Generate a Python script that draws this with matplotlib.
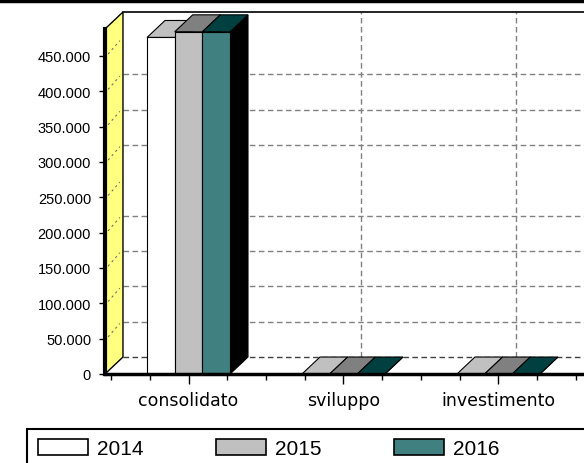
import numpy as np
import matplotlib
matplotlib.use("Agg")
import matplotlib.pyplot as plt
from matplotlib.patches import Polygon, Rectangle, Patch
from matplotlib.lines import Line2D
from matplotlib.ticker import FuncFormatter

# data
categories = ["consolidato", "sviluppo", "investimento"]
years = ["2014", "2015", "2016"]
v2014 = [476000, 0, 0]
v2015 = [484000, 0, 0]
v2016 = [484000, 0, 0]
yticks = [0, 50000, 100000, 150000, 200000, 250000, 300000, 350000, 400000, 450000]
grid_vals = [50000, 100000, 150000, 200000, 300000, 350000, 400000]  # 250k / 450k not drawn in the source

front_cols = ["#ffffff", "#c0c0c0", "#408080"]
top_cols = ["#c0c0c0", "#808080", "#004040"]

W = 0.1785          # bar width (category units)
DX, DY = 0.116, 24000  # fake 3d depth
XMIN, XMAX = -0.539, 2.552
YTOP = 512000

fig = plt.figure(figsize=(5.84, 4.64), dpi=100)
ax = fig.add_axes([105/584, 1-375/464, (584-105)/584, (375-13)/464])
ax.set_xlim(XMIN, XMAX)
ax.set_ylim(0, YTOP)
ax.set_facecolor("white")

# back wall, floor, left wall
ax.add_patch(Rectangle((XMIN+DX, DY), XMAX, YTOP-DY, fc="white", ec="none", zorder=0))
ax.plot([XMIN+DX, XMAX+1], [YTOP, YTOP], color="black", lw=1.2, clip_on=False, zorder=1)
ax.add_patch(Polygon([(XMIN, 0), (XMAX+1, 0), (XMAX+1, DY), (XMIN+DX, DY)],
                     closed=True, fc="white", ec="none", zorder=0.5))
ax.plot([XMIN+DX, XMAX], [DY, DY], color="#404040", lw=1, ls=(0, (4, 2.5)), zorder=1)
ax.add_patch(Polygon([(XMIN, 0), (XMIN+DX, DY), (XMIN+DX, YTOP), (XMIN, YTOP-DY)],
                     closed=True, fc="#ffff80", ec="black", lw=1, zorder=1, clip_on=False))

# gridlines on walls
for v in grid_vals:
    ax.plot([XMIN+DX, XMAX], [v+DY, v+DY], color="#808080", lw=1, ls=(0, (4, 2.5)), zorder=0.8)
for v in yticks[1:]:
    ax.plot([XMIN+0.02, XMIN+DX-0.02], [v+2500, v+DY-2500], color="#707070", lw=0.8,
            ls=(0, (2, 3)), zorder=1.5)
for c in [1, 2]:
    ax.plot([c+DX, c+DX], [DY, YTOP], color="#808080", lw=1, ls=(0, (4, 2.5)), zorder=0.8)

# bars
x = np.arange(len(categories))
for i, vals in enumerate([v2014, v2015, v2016]):
    xs = x + (i-1)*W
    z = 3 + i
    for xc, v in zip(xs, vals):
        xl, xr = xc - W/2, xc + W/2
        ax.add_patch(Polygon([(xr, 0), (xr+DX, DY), (xr+DX, v+DY), (xr, v)],
                             closed=True, fc="black", ec="black", lw=0.8, zorder=z))
        ax.add_patch(Polygon([(xl, v), (xr, v), (xr+DX, v+DY), (xl+DX, v+DY)],
                             closed=True, fc=top_cols[i], ec="black", lw=0.8, zorder=z+0.1))
    ax.bar(xs, vals, W, color=front_cols[i], edgecolor="black", lw=0.8, zorder=z+0.2)

# axes styling
for s in ["top", "right"]:
    ax.spines[s].set_visible(False)
ax.spines["bottom"].set_linewidth(2.5)
ax.spines["bottom"].set_zorder(10)
ax.spines["left"].set_linewidth(3)
ax.spines["left"].set_bounds(0, YTOP-DY)
ax.spines["left"].set_zorder(10)

ax.set_yticks(yticks)
ax.yaxis.set_major_formatter(FuncFormatter(lambda v, p: f"{int(v):,}".replace(",", ".")))
ax.tick_params(axis="y", length=4, width=1, pad=6, direction="out")
for lab in ax.get_yticklabels():
    lab.set_fontfamily("Liberation Sans")
    lab.set_fontsize(10.5)

ax.set_xticks(x)
ax.set_xticklabels(categories, fontsize=12.5, fontfamily="DejaVu Sans")
ax.set_xticks([m for m in np.arange(-0.5, 2.6, 0.25) if abs(m - round(m)) > 0.01], minor=True)
ax.tick_params(axis="x", which="major", length=7, width=1, pad=5)
ax.tick_params(axis="x", which="minor", length=4, width=1)

# outer frame bits and legend
fig.add_artist(Line2D([0, 1], [1-2/464, 1-2/464], transform=fig.transFigure, color="black", lw=2.5))
fig.add_artist(Rectangle((27/584, -0.05), 1.0, 1-430/464+0.05, transform=fig.transFigure,
                         fill=False, ec="black", lw=1.5))
handles = [Patch(fc=c, ec="black", lw=1.2, label=y) for c, y in zip(front_cols, years)]
fig.legend(handles=handles, loc="upper left", bbox_to_anchor=(38/584, 1-440/464), ncol=3,
           frameon=False, prop={"family": "Liberation Sans", "size": 15},
           handlelength=2.4, handleheight=0.8, handletextpad=0.45, columnspacing=3.45,
           borderpad=0, borderaxespad=0)

fig.savefig("out.png", dpi=100)
